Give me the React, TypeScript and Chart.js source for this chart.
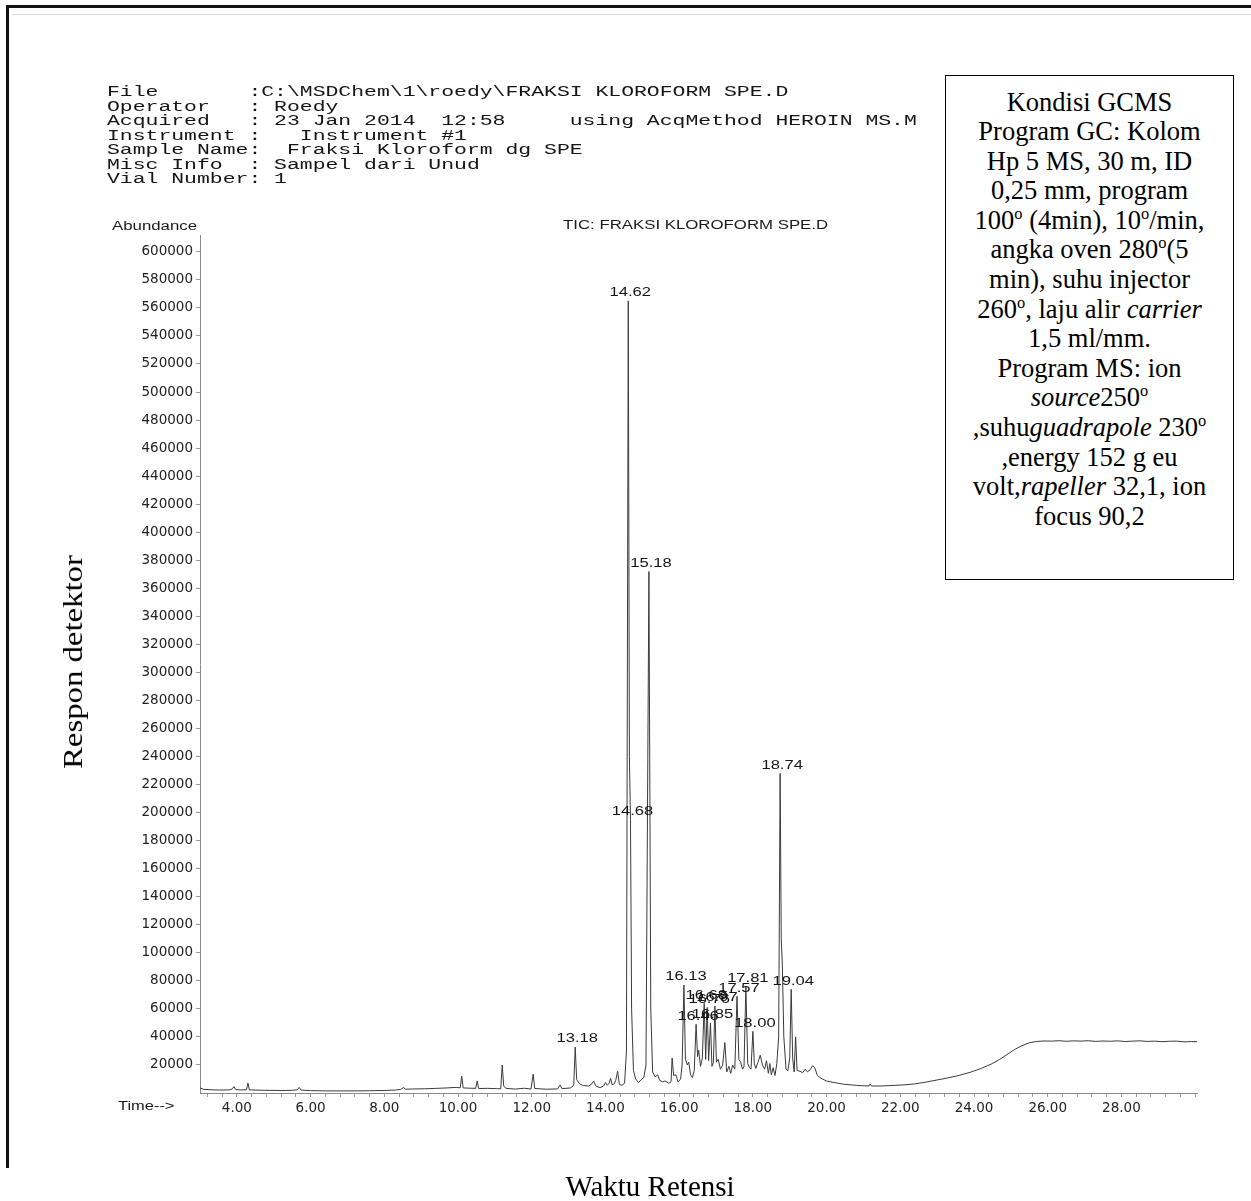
import React, { useEffect, useRef } from 'react';
import { Chart, registerables } from 'chart.js';

Chart.register(...registerables);

// ---- Chromatogram (TIC) data: retention time (min) and abundance ----
const retentionTimes = [
  3.0, 3.1, 3.3, 3.55, 3.8, 3.88, 3.92, 3.97, 4.1, 4.26, 4.3, 4.34, 4.6, 4.9, 5.2, 5.5, 5.64, 5.69, 5.74,
  6.0, 6.4, 6.8, 7.2, 7.6, 8.0, 8.3, 8.45, 8.52, 8.58, 8.8, 9.1, 9.4, 9.7, 9.95, 10.06, 10.1, 10.14,
  10.35, 10.48, 10.52, 10.56, 10.8, 11.05, 11.16, 11.2, 11.24, 11.3, 11.55, 11.8, 11.98, 12.04, 12.08,
  12.4, 12.7, 12.77, 12.82, 13.05, 13.14, 13.18, 13.22, 13.3, 13.4, 13.55, 13.63, 13.68, 13.74, 13.85,
  13.95, 14.0, 14.05, 14.1, 14.14, 14.18, 14.24, 14.28, 14.33, 14.38, 14.45, 14.52, 14.57, 14.62, 14.65,
  14.68, 14.71, 14.76, 14.82, 14.9, 14.97, 15.04, 15.1, 15.18, 15.23, 15.28, 15.35, 15.42, 15.47, 15.55,
  15.62, 15.72, 15.78, 15.81, 15.85, 15.91, 15.97, 16.04, 16.08, 16.13, 16.17, 16.22, 16.26, 16.31, 16.36,
  16.41, 16.46, 16.5, 16.53, 16.58, 16.63, 16.68, 16.72, 16.76, 16.8, 16.85, 16.89, 16.93, 16.97, 17.01,
  17.06, 17.12, 17.18, 17.24, 17.29, 17.35, 17.4, 17.45, 17.51, 17.57, 17.62, 17.67, 17.72, 17.76, 17.81,
  17.86, 17.91, 17.95, 18.0, 18.04, 18.08, 18.14, 18.2, 18.26, 18.32, 18.37, 18.42, 18.46, 18.5, 18.55,
  18.6, 18.65, 18.7, 18.74, 18.77, 18.8, 18.84, 18.9, 18.95, 19.0, 19.04, 19.08, 19.12, 19.16, 19.2,
  19.28, 19.35, 19.42, 19.48, 19.55, 19.62, 19.68, 19.75, 19.85, 20.0, 20.2, 20.45, 20.7, 20.95, 21.15,
  21.18, 21.22, 21.5, 21.8, 22.1, 22.4, 22.7, 23.0, 23.3, 23.6, 23.9, 24.2, 24.5, 24.7, 24.9, 25.1, 25.3,
  25.5, 25.7, 25.9, 26.1, 26.3, 26.5, 26.7, 26.9, 27.1, 27.3, 27.5, 27.7, 27.9, 28.1, 28.3, 28.5, 28.7,
  28.9, 29.1, 29.3, 29.5, 29.7, 29.9, 30.05,
];

const abundances = [
  3600, 2600, 2300, 2100, 2200, 3000, 4600, 2400, 2200, 2300, 7100, 2200, 2000, 1900, 1800, 1900, 2300, 4000, 2100,
  1700, 1500, 1500, 1500, 1600, 1800, 2100, 2600, 3900, 2700, 2900, 3000, 3300, 3600, 4000, 3700, 12000, 3600,
  3400, 3300, 8600, 3200, 3300, 3100, 3000, 20000, 5000, 3300, 2800, 3400, 2800, 13500, 3200,
  2700, 2900, 5800, 3100, 3600, 5500, 32800, 9500, 6500, 5300, 5000, 6500, 8500, 5000, 3800,
  5000, 7500, 5500, 7000, 10500, 6000, 6500, 9000, 15500, 6000, 5500, 7000, 30000, 565000, 240000,
  195000, 60000, 16000, 10000, 7500, 9500, 11000, 20000, 372000, 60000, 15000, 11500, 13000, 9000, 8000,
  8500, 7000, 8000, 25000, 12500, 13000, 8000, 10000, 20000, 77000, 24000, 20000, 22000, 13000, 11000,
  16000, 49000, 26000, 30500, 19000, 25000, 64000, 24000, 61000, 23000, 50000, 19000, 22000, 62000, 22000,
  24000, 17000, 20000, 36000, 15000, 19000, 14000, 20000, 17000, 69000, 24000, 22000, 17000, 19000, 76000,
  21000, 18000, 17000, 44000, 21000, 17500, 22000, 27000, 20000, 17000, 23000, 14000, 21000, 13000, 18000,
  12500, 21000, 40000, 228000, 110000, 91000, 40000, 17000, 16000, 25000, 74000, 25000, 15000, 40000, 16000,
  15500, 14500, 17000, 15000, 16500, 19500, 18000, 12500, 10500, 8500, 7500, 6300, 5700, 5200, 5000,
  6500, 5000, 5000, 5400, 5800, 6500, 7800, 9300, 10800, 12600, 14800, 17600, 21000, 24000, 27500, 31000, 33800,
  35800, 36800, 37100, 37000, 37300, 36900, 37200, 37000, 37300, 36800, 37100, 36900, 37200, 36700, 37000, 37200, 36800,
  37000, 36600, 36900, 37000, 36500, 36700, 36600,
];

// ---- Labelled peaks ----
const peakTimes = [13.18, 14.62, 14.68, 15.18, 16.13, 16.46, 16.68, 16.76, 16.85, 16.97, 17.57, 17.81, 18.0, 18.74, 19.04];
const peakHeights = [32800, 565000, 195000, 372000, 77000, 49000, 64000, 61000, 50000, 62000, 69000, 76000, 44000, 228000, 74000];
const peakLabels = ['13.18', '14.62', '14.68', '15.18', '16.13', '16.46', '16.68', '16.76', '16.85', '16.97', '17.57', '17.81', '18.00', '18.74', '19.04'];

// ---- Axes ----
const yTickValues = [
  20000, 40000, 60000, 80000, 100000, 120000, 140000, 160000, 180000, 200000, 220000, 240000, 260000, 280000, 300000,
  320000, 340000, 360000, 380000, 400000, 420000, 440000, 460000, 480000, 500000, 520000, 540000, 560000, 580000, 600000,
];
const xTickValues = [4, 6, 8, 10, 12, 14, 16, 18, 20, 22, 24, 26, 28];
const xTickLabels = ['4.00', '6.00', '8.00', '10.00', '12.00', '14.00', '16.00', '18.00', '20.00', '22.00', '24.00', '26.00', '28.00'];
const X_MIN = 3.0;
const X_MAX = 30.05;
const Y_MAX = 612000;
const MINOR_STEP = 0.4;

// ---- Header text ----
const headerLines = [
  'File       :C:\\MSDChem\\1\\roedy\\FRAKSI KLOROFORM SPE.D',
  'Operator   : Roedy',
  'Acquired   : 23 Jan 2014  12:58     using AcqMethod HEROIN MS.M',
  'Instrument :   Instrument #1',
  'Sample Name:  Fraksi Kloroform dg SPE',
  'Misc Info  : Sampel dari Unud',
  'Vial Number: 1',
];
const chartTitle = 'TIC: FRAKSI KLOROFORM SPE.D';
const yAxisName = 'Abundance';
const xAxisName = 'Time-->';
const sideYLabel = 'Respon detektor';
const sideXLabel = 'Waktu Retensi';

const scanSans = '"Liberation Sans", Arial, sans-serif';

const peakLabelPlugin = {
  id: 'peakLabelPlugin',
  afterDatasetsDraw(chart: any) {
    const { ctx, scales } = chart;
    const xs = scales.x;
    const ys = scales.y;
    ctx.save();
    ctx.font = '12px "Liberation Sans", Arial, sans-serif';
    ctx.fillStyle = '#151515';
    ctx.textAlign = 'center';
    ctx.textBaseline = 'middle';
    peakTimes.forEach((t, i) => {
      const px = xs.getPixelForValue(t) + 2;
      const py = ys.getPixelForValue(peakHeights[i]) - 8;
      ctx.save();
      ctx.translate(px, py);
      ctx.scale(1.38, 1);
      ctx.fillText(peakLabels[i], 0, 0);
      ctx.restore();
    });
    ctx.restore();
  },
};

function Sup({ children }: { children: React.ReactNode }) {
  return <sup style={{ fontSize: '0.62em', verticalAlign: 'super', lineHeight: 0 }}>{children}</sup>;
}

export default function App() {
  const canvasRef = useRef<HTMLCanvasElement | null>(null);

  useEffect(() => {
    const canvas = canvasRef.current;
    if (!canvas) return;
    const points = retentionTimes.map((t, i) => ({ x: t, y: abundances[i] }));
    const minorTicks: number[] = [];
    for (let v = 3.2; v <= 30.0001; v += MINOR_STEP) minorTicks.push(Math.round(v * 100) / 100);
    const tickFont = { family: '"DejaVu Sans", sans-serif', size: 13.5 };

    const chart = new Chart(canvas, {
      type: 'line',
      data: {
        datasets: [
          {
            data: points,
            borderColor: '#3a3a3a',
            borderWidth: 1,
            pointRadius: 0,
            tension: 0,
            fill: false,
          },
        ],
      },
      options: {
        responsive: false,
        maintainAspectRatio: false,
        animation: false,
        parsing: true,
        layout: { padding: { left: 100, right: 54, top: 235, bottom: 68 } },
        plugins: {
          legend: { display: false },
          tooltip: { enabled: false },
          title: { display: false },
        },
        scales: {
          x: {
            type: 'linear',
            min: X_MIN,
            max: X_MAX,
            afterBuildTicks: (s: any) => {
              s.ticks = minorTicks.map((v) => ({ value: v }));
            },
            afterFit: (s: any) => {
              s.height = 40;
            },
            ticks: {
              autoSkip: false,
              maxRotation: 0,
              minRotation: 0,
              padding: 3,
              color: '#222',
              font: tickFont,
              callback: (v: any) => {
                const i = xTickValues.findIndex((x) => Math.abs(x - Number(v)) < 1e-6);
                return i >= 0 ? xTickLabels[i] : '';
              },
            },
            grid: { display: true, drawOnChartArea: false, drawTicks: true, tickLength: 4, color: '#9a9a9a' },
            border: { display: true, color: '#8a8a8a', width: 1 },
          },
          y: {
            type: 'linear',
            min: 0,
            max: Y_MAX,
            afterBuildTicks: (s: any) => {
              s.ticks = yTickValues.map((v) => ({ value: v }));
            },
            afterFit: (s: any) => {
              s.width = 100;
            },
            ticks: {
              padding: 3,
              color: '#222',
              font: tickFont,
              callback: (v: any) => String(v),
            },
            grid: { display: true, drawOnChartArea: false, drawTicks: true, tickLength: 4, color: '#9a9a9a' },
            border: { display: true, color: '#8a8a8a', width: 1 },
          },
        },
      } as any,
      plugins: [peakLabelPlugin],
    });
    return () => chart.destroy();
  }, []);

  const stretch = (s: number): React.CSSProperties => ({
    transform: `scaleX(${s})`,
    transformOrigin: '0 0',
    display: 'inline-block',
  });

  return (
    <div style={{ position: 'absolute', left: 0, top: 0, width: 1251, height: 1201, background: '#fff', overflow: 'hidden' }}>
      {/* page frame */}
      <div style={{ position: 'absolute', left: 6, top: 5, width: 1245, height: 2.5, background: '#111' }} />
      <div style={{ position: 'absolute', left: 6, top: 5, width: 2.5, height: 1163, background: '#111' }} />
      <div style={{ position: 'absolute', left: 12, top: 14, width: 1239, height: 1, background: '#d6d6d6' }} />

      <canvas ref={canvasRef} width={1251} height={1201} style={{ position: 'absolute', left: 0, top: 0, width: 1251, height: 1201 }} />

      {/* header */}
      <div
        style={{
          position: 'absolute',
          left: 107,
          top: 85,
          fontFamily: '"Liberation Mono", "DejaVu Sans Mono", monospace',
          fontSize: 14,
          lineHeight: '14.5px',
          color: '#151515',
          whiteSpace: 'pre',
          ...stretch(1.53),
        }}
      >
        {headerLines.map((l, i) => (
          <div key={i}>{l}</div>
        ))}
      </div>

      <div style={{ position: 'absolute', left: 112, top: 219, fontFamily: scanSans, fontSize: 12, lineHeight: '14px', color: '#1a1a1a', whiteSpace: 'nowrap', ...stretch(1.4) }}>
        {yAxisName}
      </div>
      <div style={{ position: 'absolute', left: 563, top: 218, fontFamily: scanSans, fontSize: 12, lineHeight: '14px', color: '#1a1a1a', whiteSpace: 'nowrap', ...stretch(1.4) }}>
        {chartTitle}
      </div>
      <div style={{ position: 'absolute', left: 118, top: 1099, fontFamily: scanSans, fontSize: 12, lineHeight: '14px', color: '#1a1a1a', whiteSpace: 'nowrap', ...stretch(1.37) }}>
        {xAxisName}
      </div>

      {/* conditions box */}
      <div
        style={{
          position: 'absolute',
          left: 945,
          top: 75,
          width: 289,
          height: 505,
          boxSizing: 'border-box',
          border: '1.5px solid #000',
          paddingTop: 11.5,
          textAlign: 'center',
          fontFamily: '"Liberation Serif", "Times New Roman", serif',
          fontSize: 26.5,
          lineHeight: '29.6px',
          color: '#000',
          whiteSpace: 'nowrap',
          background: '#fff',
        }}
      >
        <div>Kondisi GCMS</div>
        <div>Program GC: Kolom</div>
        <div>Hp 5 MS, 30 m, ID</div>
        <div>0,25 mm, program</div>
        <div>
          100<Sup>o</Sup> (4min), 10<Sup>o</Sup>/min,
        </div>
        <div>
          angka oven 280<Sup>o</Sup>(5
        </div>
        <div>min), suhu injector</div>
        <div>
          260<Sup>o</Sup>, laju alir <i>carrier</i>
        </div>
        <div>1,5 ml/mm.</div>
        <div>Program MS: ion</div>
        <div>
          <i>source</i>250<Sup>o</Sup>
        </div>
        <div>
          ,suhu<i>guadrapole</i> 230<Sup>o</Sup>
        </div>
        <div>,energy 152 g eu</div>
        <div>
          volt,<i>rapeller</i> 32,1, ion
        </div>
        <div>focus 90,2</div>
      </div>

      {/* document axis captions */}
      <div
        style={{
          position: 'absolute',
          left: 73,
          top: 662,
          transform: 'translate(-50%, -50%) rotate(-90deg) scaleX(1.17)',
          fontFamily: '"Liberation Serif", "Times New Roman", serif',
          fontSize: 28,
          color: '#000',
          whiteSpace: 'nowrap',
        }}
      >
        {sideYLabel}
      </div>
      <div
        style={{
          position: 'absolute',
          left: 650,
          top: 1186,
          transform: 'translate(-50%, -50%)',
          fontFamily: '"Liberation Serif", "Times New Roman", serif',
          fontSize: 29,
          color: '#000',
          whiteSpace: 'nowrap',
        }}
      >
        {sideXLabel}
      </div>
    </div>
  );
}
